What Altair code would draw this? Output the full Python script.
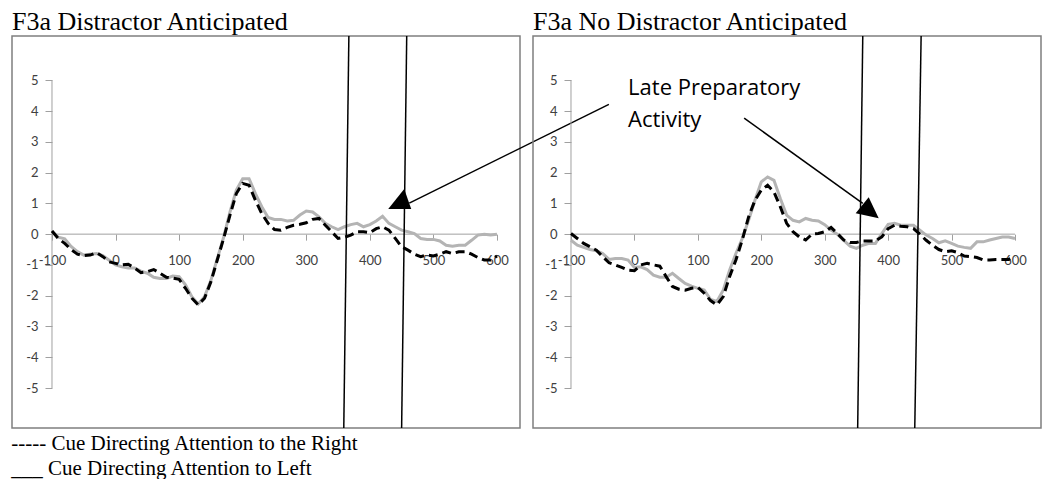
import altair as alt
import pandas as pd

# ---------------- data ----------------
times = list(range(-100, 601, 10))

# F3a Distractor Anticipated
da_left = [0.10, -0.10, -0.15, -0.40, -0.57, -0.68, -0.65, -0.63, -0.70, -0.85,
           -1.00, -1.06, -1.10, -1.10, -1.20, -1.27, -1.40, -1.44, -1.44, -1.36,
           -1.38, -1.65, -2.03, -2.27, -2.03, -1.50, -0.80, -0.10, 0.72, 1.43,
           1.80, 1.80, 1.32, 0.89, 0.54, 0.48, 0.48, 0.43, 0.45, 0.62,
           0.75, 0.72, 0.56, 0.35, 0.24, 0.15, 0.24, 0.31, 0.35, 0.24,
           0.31, 0.43, 0.58, 0.35, 0.24, 0.13, 0.08, 0.02, -0.14, -0.17,
           -0.17, -0.22, -0.36, -0.39, -0.36, -0.36, -0.20, -0.03, 0.00, -0.03,
           0.00]
da_right = [0.10, -0.14, -0.30, -0.50, -0.65, -0.70, -0.68, -0.60, -0.73, -0.90,
            -0.95, -1.00, -0.98, -1.10, -1.25, -1.22, -1.15, -1.27, -1.40, -1.43,
            -1.47, -1.76, -2.08, -2.30, -2.08, -1.55, -0.84, -0.14, 0.62, 1.32,
            1.65, 1.59, 1.10, 0.67, 0.35, 0.15, 0.13, 0.22, 0.29, 0.32,
            0.37, 0.48, 0.51, 0.29, 0.08, -0.14, -0.10, -0.03, 0.08, 0.08,
            0.05, 0.18, 0.24, 0.13, -0.14, -0.41, -0.52, -0.65, -0.73, -0.68,
            -0.71, -0.65, -0.57, -0.63, -0.57, -0.57, -0.65, -0.76, -0.84, -0.84,
            -0.71]

# F3a No Distractor Anticipated
nd_left = [-0.20, -0.36, -0.43, -0.50, -0.54, -0.63, -0.82, -0.79, -0.79, -0.84,
           -1.08, -1.06, -1.15, -1.33, -1.40, -1.40, -1.27, -1.44, -1.60, -1.69,
           -1.76, -1.82, -2.12, -2.19, -1.82, -1.17, -0.63, -0.14, 0.45, 1.10,
           1.70, 1.86, 1.75, 1.16, 0.62, 0.45, 0.40, 0.51, 0.45, 0.43,
           0.31, 0.13, 0.00, -0.20, -0.39, -0.46, -0.36, -0.30, -0.30, 0.02,
           0.32, 0.35, 0.29, 0.29, 0.29, 0.13, -0.03, -0.14, -0.28, -0.22,
           -0.30, -0.39, -0.43, -0.46, -0.25, -0.25, -0.19, -0.14, -0.09, -0.09,
           -0.14]
nd_right = [0.02, -0.14, -0.30, -0.41, -0.52, -0.73, -0.93, -1.00, -1.08, -1.17,
            -1.19, -1.00, -0.95, -1.00, -1.04, -1.38, -1.70, -1.79, -1.82, -1.76,
            -1.73, -1.92, -2.16, -2.30, -2.03, -1.38, -0.84, -0.19, 0.56, 1.10,
            1.43, 1.59, 1.37, 0.89, 0.35, 0.08, -0.09, -0.19, 0.00, 0.02,
            0.08, 0.22, 0.02, -0.19, -0.27, -0.27, -0.22, -0.22, -0.22, -0.09,
            0.18, 0.29, 0.26, 0.24, 0.18, 0.00, -0.20, -0.36, -0.50, -0.57,
            -0.54, -0.60, -0.71, -0.73, -0.76, -0.84, -0.84, -0.82, -0.82, -0.82,
            -0.73]

x_ticks = [-100, 0, 100, 200, 300, 400, 500, 600]
y_ticks = [-5, -4, -3, -2, -1, 0, 1, 2, 3, 4, 5]

titles = ["F3a Distractor Anticipated", "F3a No Distractor Anticipated"]
legend_lines = ["----- Cue Directing Attention to the Right",
                "___ Cue Directing Attention to Left"]
annotation_lines = ["Late Preparatory", "Activity"]

# slanted window lines (time at top, time at bottom)
da_win_top = [367, 458]
da_win_bot = [359, 450]
nd_win_top = [360, 452]
nd_win_bot = [352, 442]

# arrows (start t, start v, end t, end v)
da_arrow = [776, 4.22, 462, 1.01]
nd_arrow = [173, 3.77, 360, 1.00]
# arrow heads (t, v)
da_head = [447, 1.14]
nd_head = [367, 0.86]

# ---------------- layout helpers ----------------
W, H = 508, 392
YDOM = [-6.30, 6.44]
XDOM_DA = [-162.9, 636.2]
XDOM_ND = [-159.9, 641.0]

GRAY = "#b4b4b4"
AXIS_GRAY = "#a0a0a0"
LABEL_FONT = "Lato"
SERIF = "Liberation Serif"

x_off = -(0 - YDOM[0]) / (YDOM[1] - YDOM[0]) * H
HYPHEN_LABEL = "'' + datum.value"


def panel(title, left, right, xdom, yaxis_off, wtop, wbot, arrow, head,
          head_path, with_text):
    df = pd.DataFrame({"t": times * 2,
                       "v": left + right,
                       "s": ["Left"] * len(times) + ["Right"] * len(times)})
    xs = alt.Scale(domain=xdom, nice=False, zero=False)
    ys = alt.Scale(domain=YDOM, nice=False, zero=False)
    xax = alt.Axis(values=x_ticks, offset=x_off, domain=False, grid=False,
                   tickSize=6, tickColor=AXIS_GRAY, labelPadding=14,
                   labelFont=LABEL_FONT, labelFontSize=13, labelColor="#404040",
                   title=None, labelFlush=False, labelOverlap=False,
                   labelExpr=HYPHEN_LABEL)
    yax = alt.Axis(values=y_ticks, offset=yaxis_off, domain=False, grid=False,
                   tickSize=7, tickColor=AXIS_GRAY, labelPadding=7,
                   labelFont=LABEL_FONT, labelFontSize=13, labelColor="#404040",
                   title=None, labelOverlap=False, labelFlush=False,
                   labelExpr=HYPHEN_LABEL)
    X = lambda f="t": alt.X(f + ":Q", scale=xs, axis=xax)
    Y = lambda f="v": alt.Y(f + ":Q", scale=ys, axis=yax)

    ax_df = pd.DataFrame({"t": [x_ticks[0]], "t2": [x_ticks[-1]],
                          "v": [y_ticks[0]], "v2": [y_ticks[-1]], "z": [0]})
    yaxis_line = alt.Chart(ax_df).mark_rule(color=AXIS_GRAY, strokeWidth=1).encode(
        x=X("t"), y=Y("v"), y2="v2")
    xaxis_line = alt.Chart(ax_df).mark_rule(color=AXIS_GRAY, strokeWidth=1).encode(
        x=X("t"), x2="t2", y=Y("z"))

    gray = alt.Chart(df).transform_filter(alt.datum.s == "Left").mark_line(
        color=GRAY, strokeWidth=3).encode(x=X(), y=Y())
    black = alt.Chart(df).transform_filter(alt.datum.s == "Right").mark_line(
        color="black", strokeWidth=3, strokeDash=[9, 5]).encode(x=X(), y=Y())

    win_df = pd.DataFrame({"t": wtop, "t2": wbot,
                           "v": [YDOM[1]] * 2, "v2": [YDOM[0]] * 2})
    wins = alt.Chart(win_df).mark_rule(color="black", strokeWidth=1.5).encode(
        x=X("t"), x2="t2", y=Y("v"), y2="v2")

    arr_df = pd.DataFrame({"t": [arrow[0]], "v": [arrow[1]],
                           "t2": [arrow[2]], "v2": [arrow[3]]})
    arr = alt.Chart(arr_df).mark_rule(color="black", strokeWidth=1.5).encode(
        x=X("t"), y=Y("v"), x2="t2", y2="v2")

    head_df = pd.DataFrame({"t": [head[0]], "v": [head[1]]})
    hd = alt.Chart(head_df).mark_point(shape=head_path, filled=True, size=529,
                                      color="black", opacity=1).encode(
        x=X(), y=Y())

    layers = [yaxis_line, xaxis_line, gray, black, wins, arr, hd]

    if with_text:
        txt_df = pd.DataFrame({"t": [-10, -10], "v": [4.51, 3.47],
                               "txt": annotation_lines})
        txt = alt.Chart(txt_df).mark_text(
            align="left", baseline="alphabetic", font="Open Sans", fontSize=22,
            color="black").encode(x=X(), y=Y(), text="txt:N")
        layers.append(txt)

    return alt.layer(*layers).properties(
        width=W, height=H,
        title=alt.TitleParams(title, anchor="start", font=SERIF, fontSize=26,
                              fontWeight="normal", color="black", offset=0,
                              frame="group"))


left_panel = panel(titles[0], da_left, da_right, XDOM_DA, -40,
                   da_win_top, da_win_bot, da_arrow, da_head,
                   "M-1,0.87L1,0.87L0.39,-0.87Z", False)
right_panel = panel(titles[1], nd_left, nd_right, XDOM_ND, -38,
                    nd_win_top, nd_win_bot, nd_arrow, nd_head,
                    "M0.13,-0.91L-1,0.48L1,0.91Z", True)

chart = alt.hconcat(left_panel, right_panel, spacing=13, bounds="flush").properties(
    title=alt.TitleParams(legend_lines, orient="bottom", anchor="start",
                          font=SERIF, fontSize=21, fontWeight="normal",
                          color="black", lineHeight=25, offset=3),
    padding={"left": 3, "top": 0, "right": 0, "bottom": 0},
).configure_view(stroke="#7f7f7f", strokeWidth=1.5)

chart.save("out.html", embed_options={"renderer": "svg", "actions": False})
